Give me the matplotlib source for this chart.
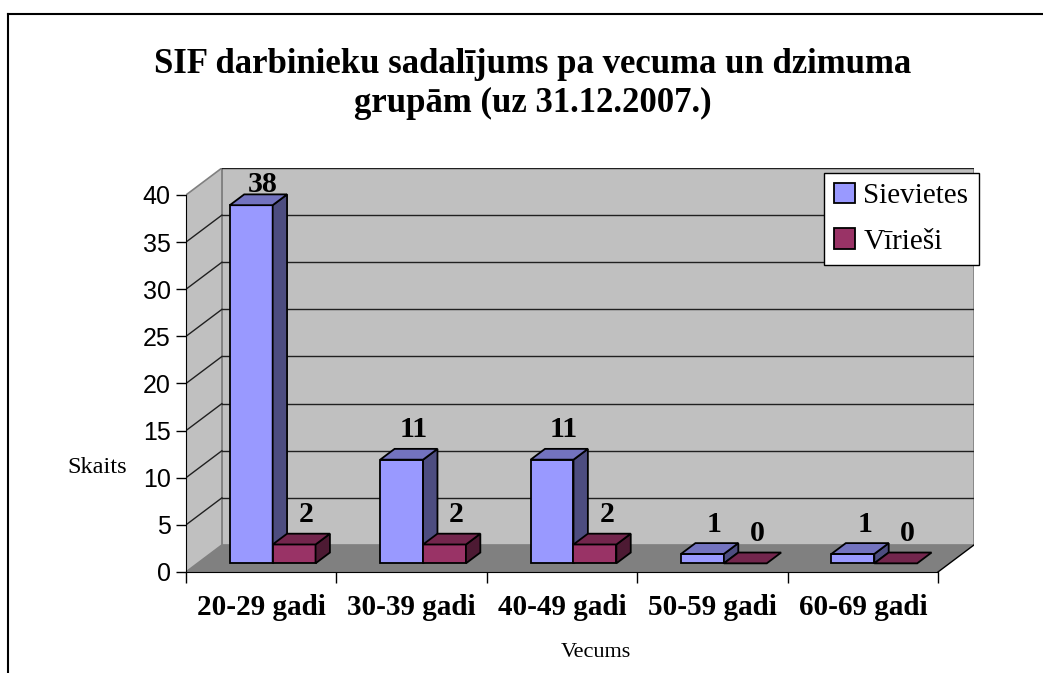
import matplotlib.pyplot as plt
from matplotlib.patches import Polygon, Patch
from matplotlib.lines import Line2D

categories = ["20-29 gadi", "30-39 gadi", "40-49 gadi", "50-59 gadi", "60-69 gadi"]
sievietes = [38, 11, 11, 1, 1]
virieshi = [2, 2, 2, 0, 0]
series_names = ["Sievietes", "Vīrieši"]

title = "SIF darbinieku sadalījums pa vecuma un dzimuma\ngrupām (uz 31.12.2007.)"

# face colours: front, side, top
COLORS = {
    "Sievietes": ("#9999FF", "#4D4D80", "#7373BF"),
    "Vīrieši": ("#993366", "#4D1A33", "#73264D"),
}
WALL = "#C0C0C0"
FLOOR = "#808080"
EDGE = "#808080"

SERIF = "Liberation Serif"
SANS = "Liberation Sans"

# depth projection (in data units: categories on x, values on y)
DX = 0.239
DY = 2.865
D0, D1 = 0.32, 0.72   # front/back depth of the bars
BW = 0.285            # bar width
YMAX = 40


def proj(x, y, d):
    return (x + d * DX, y + d * DY)


def draw_bar(ax, x0, x1, h, colors):
    front, side, top = colors
    kw = dict(edgecolor="black", linewidth=1.3, joinstyle="miter")
    if h > 0:
        ax.add_patch(Polygon([proj(x0, 0, D0), proj(x1, 0, D0), proj(x1, h, D0), proj(x0, h, D0)],
                             facecolor=front, zorder=3, **kw))
        ax.add_patch(Polygon([proj(x1, 0, D0), proj(x1, 0, D1), proj(x1, h, D1), proj(x1, h, D0)],
                             facecolor=side, zorder=3, **kw))
    ax.add_patch(Polygon([proj(x0, h, D0), proj(x1, h, D0), proj(x1, h, D1), proj(x0, h, D1)],
                         facecolor=top, zorder=3, **kw))


fig = plt.figure(figsize=(10.43, 6.73), dpi=100)
ax = fig.add_axes([0.1783, 0.1501, 0.7555, 0.6003])
n = len(categories)
xl, xr = -0.5, n - 0.5
ax.set_xlim(xl, xr + DX)
ax.set_ylim(0, YMAX + DY)

# walls and floor
ax.add_patch(Polygon([proj(xl, 0, 1), proj(xr, 0, 1), proj(xr, YMAX, 1), proj(xl, YMAX, 1)],
                     facecolor=WALL, edgecolor=EDGE, linewidth=1.2, zorder=0))
ax.add_patch(Polygon([proj(xl, 0, 0), proj(xl, 0, 1), proj(xl, YMAX, 1), proj(xl, YMAX, 0)],
                     facecolor=WALL, edgecolor=EDGE, linewidth=1.2, zorder=0))
ax.add_patch(Polygon([proj(xl, 0, 0), proj(xr, 0, 0), proj(xr, 0, 1), proj(xl, 0, 1)],
                     facecolor=FLOOR, edgecolor="none", zorder=1))
ax.plot(*zip(proj(xr, 0, 0), proj(xr, 0, 1)), color="black", lw=1, zorder=1)

# gridlines on back and side walls
for v in range(5, YMAX + 1, 5):
    ax.plot(*zip(proj(xl, v, 1), proj(xr, v, 1)), color="#202020", lw=1, zorder=1)
    if v < YMAX:
        ax.plot(*zip(proj(xl, v, 0), proj(xl, v, 1)), color="#202020", lw=1, zorder=1)

# bars
for i in range(n):
    draw_bar(ax, i - BW, i, sievietes[i], COLORS["Sievietes"])
    draw_bar(ax, i, i + BW, virieshi[i], COLORS["Vīrieši"])

# value labels (kept inside the plot area at the top)
for i in range(n):
    for vals, x0 in ((sievietes, i - BW), (virieshi, i)):
        v = vals[i]
        lx, _ = proj(x0 + BW / 2, v, 0.65)
        _, ly = proj(x0, v, (D0 + D1) / 2)
        ly = min(ly + 1.8, YMAX + 0.3)
        ax.text(lx, ly, str(v), ha="center", va="baseline", fontsize=21.5,
                fontweight="bold", family=SERIF, zorder=5)

# axes styling
for s in ("top", "right"):
    ax.spines[s].set_visible(False)
ax.spines["left"].set_bounds(0, YMAX)
ax.spines["bottom"].set_bounds(xl, xr)
ax.spines["left"].set_zorder(4)
ax.spines["bottom"].set_zorder(4)
ax.set_yticks(range(0, YMAX + 1, 5))
ax.tick_params(axis="y", direction="out", length=7, width=1, labelsize=18, pad=4)
for t in ax.get_yticklabels():
    t.set_family(SANS)
ax.set_xticks([i - 0.5 for i in range(n + 1)])
ax.set_xticklabels([])
ax.set_xticks(range(n), minor=True)
ax.set_xticklabels(categories, minor=True, fontsize=21, fontweight="bold", family=SERIF)
ax.tick_params(axis="x", which="major", direction="out", length=8, width=1)
ax.tick_params(axis="x", which="minor", length=0, pad=16)

fig.text(0.093, 0.306, "Skaits", fontsize=17.5, family=SERIF, ha="center", va="center")
fig.text(0.571, 0.031, "Vecums", fontsize=16, family=SERIF, ha="center", va="center")
fig.text(0.511, 0.875, title, fontsize=25, fontweight="bold", family=SERIF,
         ha="center", va="center", linespacing=1.22)

handles = [Patch(facecolor=COLORS[s][0], edgecolor="black", linewidth=1.3) for s in series_names]
leg = ax.legend(handles, series_names, loc="upper right", bbox_to_anchor=(1.006, 0.988),
                prop={"family": SERIF, "size": 21}, frameon=True, fancybox=False,
                framealpha=1, handlelength=0.7, handleheight=0.7, handletextpad=0.3,
                borderpad=0.35, labelspacing=0.65, borderaxespad=0)
leg.get_frame().set_edgecolor("black")
leg.get_frame().set_facecolor("white")
leg.get_frame().set_linewidth(1)
leg.set_zorder(6)

# chart area border (left and top edges only visible)
fig.add_artist(Line2D([8 / 1043, 8 / 1043], [0, 1 - 14 / 673], color="black", lw=1.5))
fig.add_artist(Line2D([8 / 1043, 1], [1 - 14 / 673, 1 - 14 / 673], color="black", lw=1.5))

fig.savefig("out.png", dpi=100)
